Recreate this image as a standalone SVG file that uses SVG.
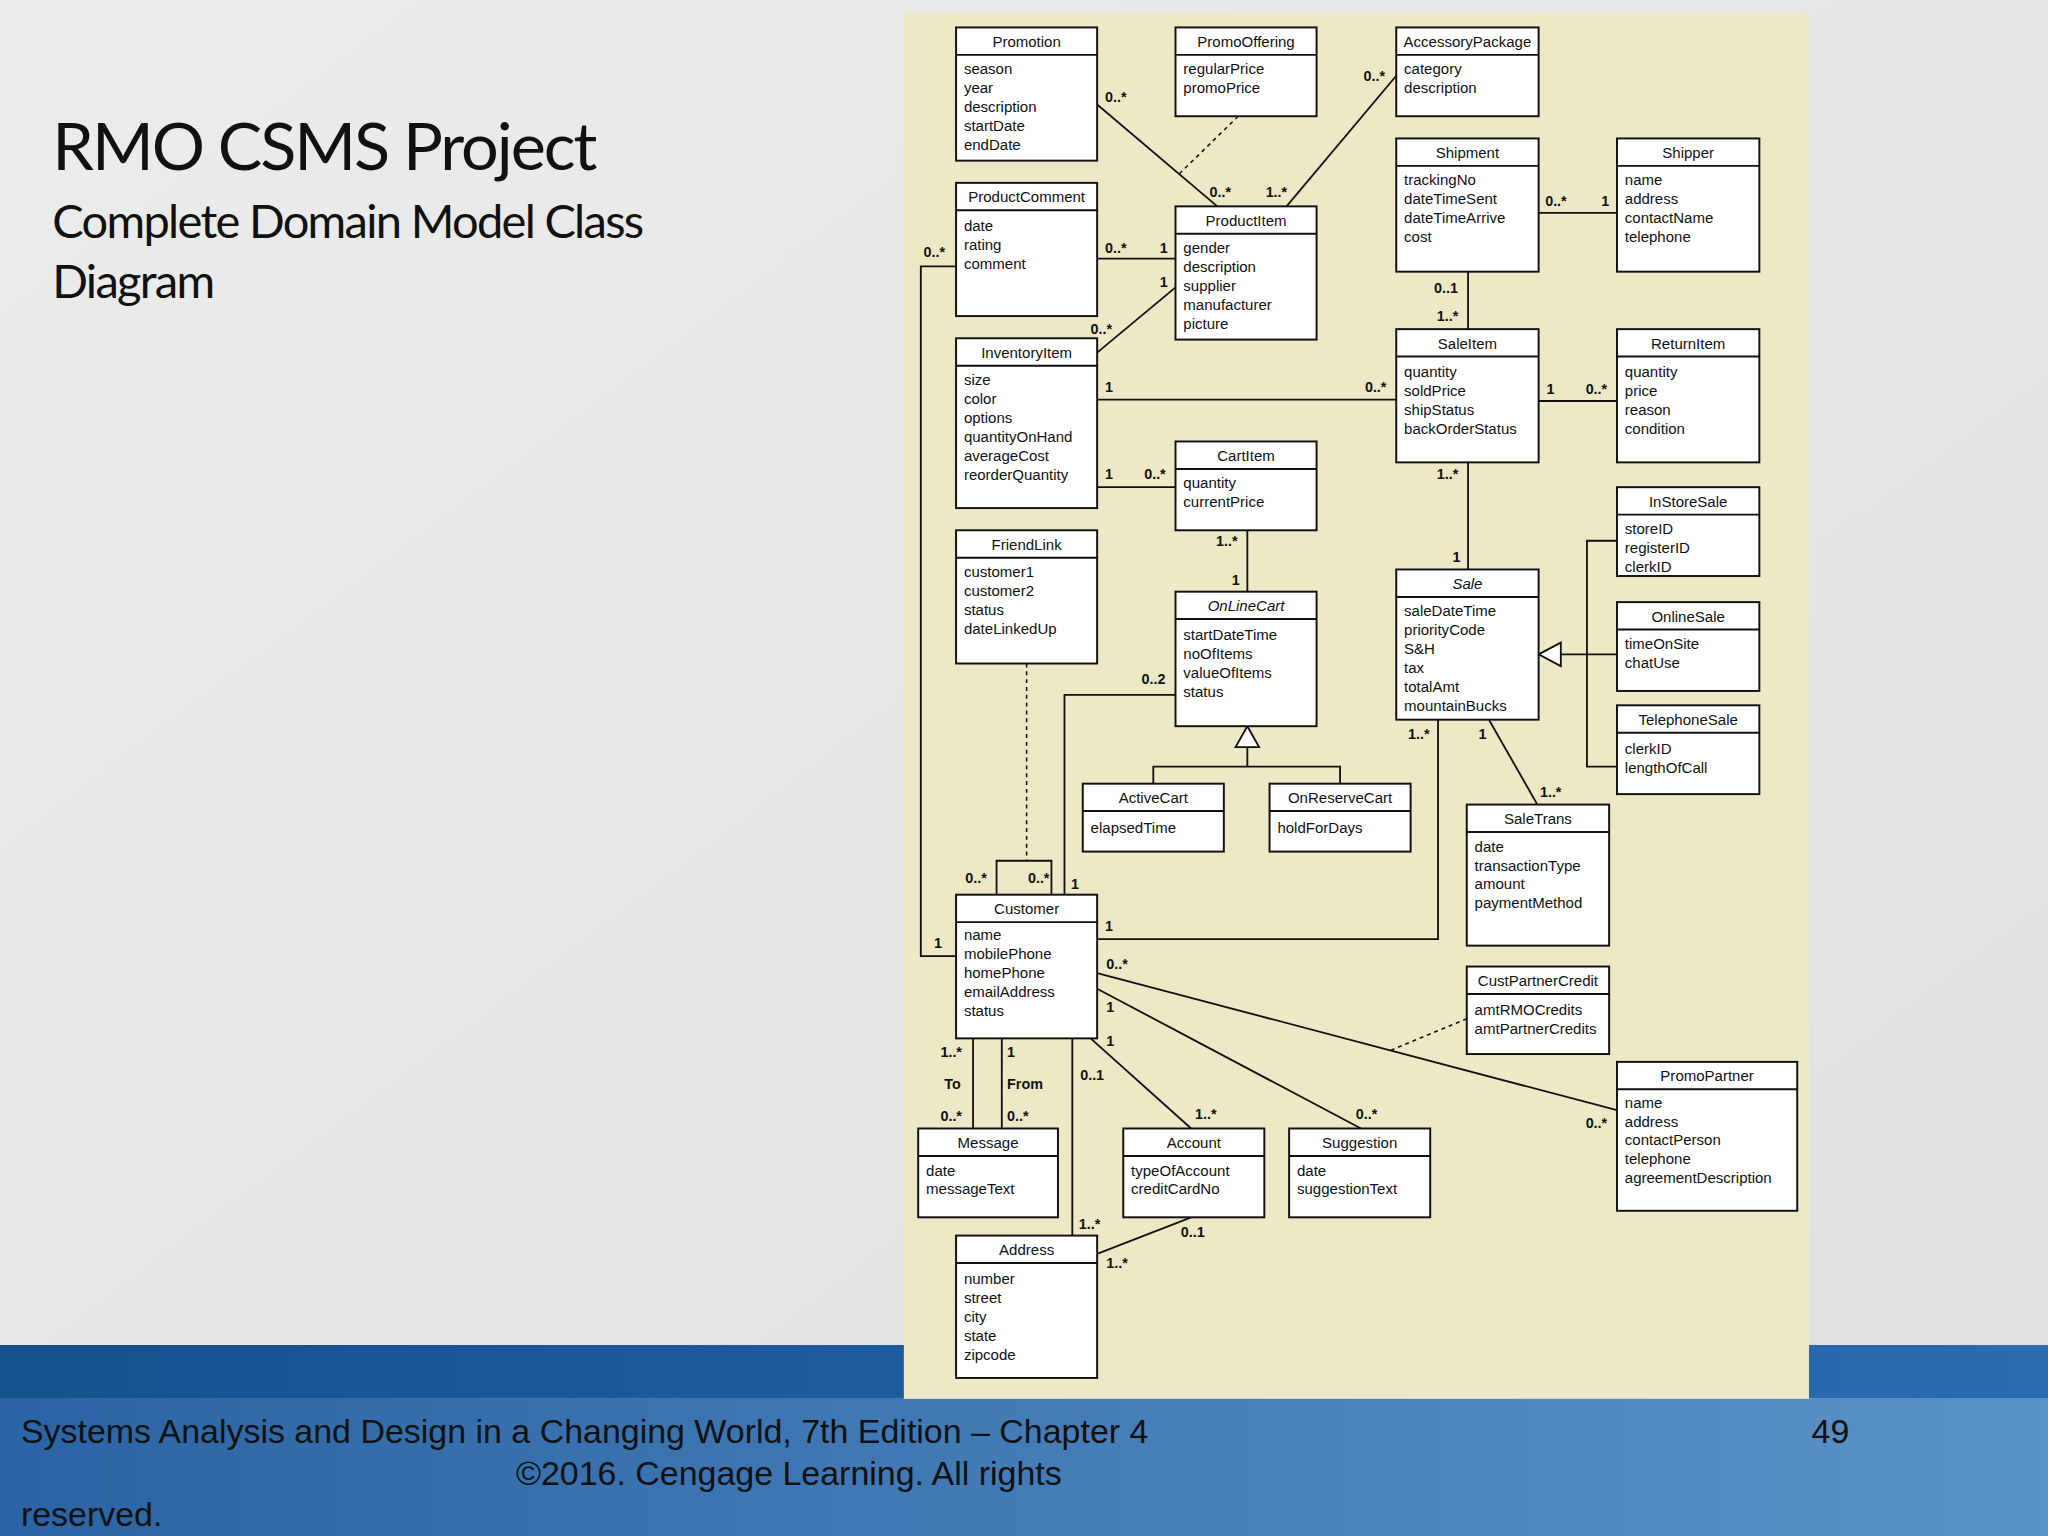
<svg xmlns="http://www.w3.org/2000/svg" width="2048" height="1536" viewBox="0 0 2048 1536">
<defs>
<linearGradient id="bg" x1="0" y1="0" x2="1" y2="1"><stop offset="0" stop-color="#ececec"/><stop offset="1" stop-color="#dedfe0"/></linearGradient>
<linearGradient id="band" x1="0" y1="0" x2="1" y2="0"><stop offset="0" stop-color="#2a64a4"/><stop offset="1" stop-color="#5b93c8"/></linearGradient>
<linearGradient id="band2" x1="0" y1="0" x2="1" y2="0"><stop offset="0" stop-color="#14508e"/><stop offset="1" stop-color="#2a6cb0"/></linearGradient>
</defs>
<style>
.box{fill:#fff;stroke:#111;stroke-width:1.5}
.sep{stroke:#111;stroke-width:1.5}
.c{fill:none;stroke:#111;stroke-width:1.4}
.d{fill:none;stroke:#111;stroke-width:1.2;stroke-dasharray:3 3}
.n{font-family:"Liberation Sans",Arial,sans-serif;font-size:11.5px;fill:#111;text-anchor:middle}
.i{font-style:italic}
.a{font-family:"Liberation Sans",Arial,sans-serif;font-size:11.5px;fill:#111}
.m{font-family:"Liberation Sans",Arial,sans-serif;font-size:11px;font-weight:bold;fill:#111}
.t1{font-family:Lato,"Open Sans",sans-serif;font-size:51px;fill:#111;letter-spacing:-1.6px}
.t2{font-family:Lato,"Open Sans",sans-serif;font-size:36px;fill:#111;letter-spacing:-1.3px}
.f{font-family:"Liberation Sans",Arial,sans-serif;font-size:26px;fill:#111}
</style>
<rect width="2048" height="1536" fill="url(#bg)"/>
<rect x="0" y="1345" width="2048" height="55" fill="url(#band2)"/>
<rect x="0" y="1398" width="2048" height="138" fill="url(#band)"/>
<g transform="scale(1.306122)">
<rect x="692" y="10" width="693" height="1061" fill="#ede8c6"/>
<text class="t1" x="40" y="130">RMO CSMS Project</text>
<text class="t2" x="40" y="182">Complete Domain Model Class</text>
<text class="t2" x="40" y="228">Diagram</text>

<g id="connectors">
<line class="c" x1="840" y1="80" x2="932" y2="158"/>
<line class="d" x1="948" y1="89" x2="903" y2="133"/>
<line class="c" x1="1069" y1="58" x2="985" y2="158"/>
<line class="c" x1="840" y1="198" x2="900" y2="198"/>
<line class="c" x1="840" y1="270" x2="900" y2="220"/>
<line class="c" x1="840" y1="306" x2="1069" y2="306"/>
<line class="c" x1="840" y1="373" x2="900" y2="373"/>
<line class="c" x1="1178" y1="163" x2="1238" y2="163"/>
<line class="c" x1="1124" y1="208" x2="1124" y2="252"/>
<line class="c" x1="1178" y1="307" x2="1238" y2="307"/>
<line class="c" x1="1124" y1="354" x2="1124" y2="436"/>
<line class="c" x1="955" y1="406" x2="955" y2="453"/>
<polygon points="955,556 946,572 964,572" fill="#fff" stroke="#111" stroke-width="1.4"/>
<polyline class="c" points="955,572 955,587"/>
<polyline class="c" points="883,600 883,587 1026,587 1026,600"/>
<polygon points="1178,501 1195,492 1195,510" fill="#fff" stroke="#111" stroke-width="1.4"/>
<line class="c" x1="1195" y1="501" x2="1238" y2="501"/>
<polyline class="c" points="1238,414 1215,414 1215,587 1238,587"/>
<line class="c" x1="1140" y1="551" x2="1177" y2="616"/>
<polyline class="c" points="1101,551 1101,719 840,719"/>
<polyline class="c" points="900,532 815,532 815,685"/>
<polyline class="c" points="732,204 705,204 705,732 732,732"/>
<line class="d" x1="786" y1="508" x2="786" y2="659"/>
<polyline class="c" points="763,685 763,659 805,659 805,685"/>
<line class="c" x1="840" y1="745" x2="1238" y2="850"/>
<line class="d" x1="1123" y1="780" x2="1065" y2="804"/>
<line class="c" x1="840" y1="757" x2="1042" y2="864"/>
<line class="c" x1="835" y1="795" x2="912" y2="864"/>
<line class="c" x1="745" y1="795" x2="745" y2="864"/>
<line class="c" x1="767" y1="795" x2="767" y2="864"/>
<line class="c" x1="821" y1="795" x2="821" y2="946"/>
<line class="c" x1="912" y1="932" x2="840" y2="960"/>
<g>
<text class="m" x="846" y="78">0..*</text><text class="m" x="926" y="151">0..*</text>
<text class="m" x="1044" y="62">0..*</text><text class="m" x="969" y="151">1..*</text>
<text class="m" x="846" y="194">0..*</text><text class="m" x="888" y="194">1</text>
<text class="m" x="888" y="220">1</text><text class="m" x="835" y="256">0..*</text>
<text class="m" x="846" y="300">1</text><text class="m" x="1045" y="300">0..*</text>
<text class="m" x="846" y="367">1</text><text class="m" x="876" y="367">0..*</text>
<text class="m" x="1183" y="158">0..*</text><text class="m" x="1226" y="158">1</text>
<text class="m" x="1098" y="224">0..1</text><text class="m" x="1100" y="246">1..*</text>
<text class="m" x="1184" y="302">1</text><text class="m" x="1214" y="302">0..*</text>
<text class="m" x="1100" y="367">1..*</text><text class="m" x="1112" y="430">1</text>
<text class="m" x="931" y="418">1..*</text><text class="m" x="943" y="448">1</text>
<text class="m" x="1132" y="566">1</text><text class="m" x="1179" y="610">1..*</text>
<text class="m" x="1078" y="566">1..*</text><text class="m" x="846" y="713">1</text>
<text class="m" x="874" y="524">0..2</text><text class="m" x="820" y="681">1</text>
<text class="m" x="707" y="197">0..*</text><text class="m" x="715" y="726">1</text>
<text class="m" x="739" y="676">0..*</text><text class="m" x="787" y="676">0..*</text>
<text class="m" x="847" y="742">0..*</text><text class="m" x="1214" y="864">0..*</text>
<text class="m" x="847" y="775">1</text><text class="m" x="1038" y="857">0..*</text>
<text class="m" x="847" y="801">1</text><text class="m" x="915" y="857">1..*</text>
<text class="m" x="720" y="809">1..*</text><text class="m" x="723" y="834">To</text><text class="m" x="720" y="858">0..*</text>
<text class="m" x="771" y="809">1</text><text class="m" x="771" y="834">From</text><text class="m" x="771" y="858">0..*</text>
<text class="m" x="827" y="827">0..1</text><text class="m" x="826" y="941">1..*</text>
<text class="m" x="904" y="947">0..1</text><text class="m" x="847" y="971">1..*</text>
</g>
</g>

<g id="Promotion"><rect class="box" x="732" y="21" width="108" height="102"/><line class="sep" x1="732" y1="42" x2="840" y2="42"/><text class="n" x="786" y="36">Promotion</text><text class="a" x="738" y="57">season</text><text class="a" x="738" y="71.5">year</text><text class="a" x="738" y="86">description</text><text class="a" x="738" y="100.5">startDate</text><text class="a" x="738" y="115">endDate</text></g>
<g id="PromoOffering"><rect class="box" x="900" y="21" width="108" height="68"/><line class="sep" x1="900" y1="42" x2="1008" y2="42"/><text class="n" x="954" y="36">PromoOffering</text><text class="a" x="906" y="57">regularPrice</text><text class="a" x="906" y="71.5">promoPrice</text></g>
<g id="AccessoryPackage"><rect class="box" x="1069" y="21" width="109" height="68"/><line class="sep" x1="1069" y1="42" x2="1178" y2="42"/><text class="n" x="1123.5" y="36">AccessoryPackage</text><text class="a" x="1075" y="57">category</text><text class="a" x="1075" y="71.5">description</text></g>
<g id="Shipment"><rect class="box" x="1069" y="106" width="109" height="102"/><line class="sep" x1="1069" y1="127" x2="1178" y2="127"/><text class="n" x="1123.5" y="121">Shipment</text><text class="a" x="1075" y="142">trackingNo</text><text class="a" x="1075" y="156.5">dateTimeSent</text><text class="a" x="1075" y="171">dateTimeArrive</text><text class="a" x="1075" y="185.5">cost</text></g>
<g id="Shipper"><rect class="box" x="1238" y="106" width="109" height="102"/><line class="sep" x1="1238" y1="127" x2="1347" y2="127"/><text class="n" x="1292.5" y="121">Shipper</text><text class="a" x="1244" y="142">name</text><text class="a" x="1244" y="156.5">address</text><text class="a" x="1244" y="171">contactName</text><text class="a" x="1244" y="185.5">telephone</text></g>
<g id="ProductComment"><rect class="box" x="732" y="140" width="108" height="102"/><line class="sep" x1="732" y1="161" x2="840" y2="161"/><text class="n" x="786" y="155">ProductComment</text><text class="a" x="738" y="177">date</text><text class="a" x="738" y="191.5">rating</text><text class="a" x="738" y="206">comment</text></g>
<g id="ProductItem"><rect class="box" x="900" y="158" width="108" height="102"/><line class="sep" x1="900" y1="179" x2="1008" y2="179"/><text class="n" x="954" y="173">ProductItem</text><text class="a" x="906" y="194">gender</text><text class="a" x="906" y="208.5">description</text><text class="a" x="906" y="223">supplier</text><text class="a" x="906" y="237.5">manufacturer</text><text class="a" x="906" y="252">picture</text></g>
<g id="InventoryItem"><rect class="box" x="732" y="259" width="108" height="130"/><line class="sep" x1="732" y1="280" x2="840" y2="280"/><text class="n" x="786" y="274">InventoryItem</text><text class="a" x="738" y="295">size</text><text class="a" x="738" y="309.5">color</text><text class="a" x="738" y="324">options</text><text class="a" x="738" y="338.5">quantityOnHand</text><text class="a" x="738" y="353">averageCost</text><text class="a" x="738" y="367.5">reorderQuantity</text></g>
<g id="SaleItem"><rect class="box" x="1069" y="252" width="109" height="102"/><line class="sep" x1="1069" y1="273" x2="1178" y2="273"/><text class="n" x="1123.5" y="267">SaleItem</text><text class="a" x="1075" y="289">quantity</text><text class="a" x="1075" y="303.5">soldPrice</text><text class="a" x="1075" y="318">shipStatus</text><text class="a" x="1075" y="332.5">backOrderStatus</text></g>
<g id="ReturnItem"><rect class="box" x="1238" y="252" width="109" height="102"/><line class="sep" x1="1238" y1="273" x2="1347" y2="273"/><text class="n" x="1292.5" y="267">ReturnItem</text><text class="a" x="1244" y="289">quantity</text><text class="a" x="1244" y="303.5">price</text><text class="a" x="1244" y="318">reason</text><text class="a" x="1244" y="332.5">condition</text></g>
<g id="CartItem"><rect class="box" x="900" y="338" width="108" height="68"/><line class="sep" x1="900" y1="359" x2="1008" y2="359"/><text class="n" x="954" y="353">CartItem</text><text class="a" x="906" y="374">quantity</text><text class="a" x="906" y="388.5">currentPrice</text></g>
<g id="InStoreSale"><rect class="box" x="1238" y="373" width="109" height="68"/><line class="sep" x1="1238" y1="394" x2="1347" y2="394"/><text class="n" x="1292.5" y="388">InStoreSale</text><text class="a" x="1244" y="409">storeID</text><text class="a" x="1244" y="423.5">registerID</text><text class="a" x="1244" y="438">clerkID</text></g>
<g id="FriendLink"><rect class="box" x="732" y="406" width="108" height="102"/><line class="sep" x1="732" y1="427" x2="840" y2="427"/><text class="n" x="786" y="421">FriendLink</text><text class="a" x="738" y="442">customer1</text><text class="a" x="738" y="456.5">customer2</text><text class="a" x="738" y="471">status</text><text class="a" x="738" y="485.5">dateLinkedUp</text></g>
<g id="OnLineCart"><rect class="box" x="900" y="453" width="108" height="103"/><line class="sep" x1="900" y1="474" x2="1008" y2="474"/><text class="n i" x="954" y="468">OnLineCart</text><text class="a" x="906" y="490">startDateTime</text><text class="a" x="906" y="504.5">noOfItems</text><text class="a" x="906" y="519">valueOfItems</text><text class="a" x="906" y="533.5">status</text></g>
<g id="Sale"><rect class="box" x="1069" y="436" width="109" height="115"/><line class="sep" x1="1069" y1="457" x2="1178" y2="457"/><text class="n i" x="1123.5" y="451">Sale</text><text class="a" x="1075" y="472">saleDateTime</text><text class="a" x="1075" y="486.5">priorityCode</text><text class="a" x="1075" y="501">S&amp;H</text><text class="a" x="1075" y="515.5">tax</text><text class="a" x="1075" y="530">totalAmt</text><text class="a" x="1075" y="544.5">mountainBucks</text></g>
<g id="OnlineSale"><rect class="box" x="1238" y="461" width="109" height="68"/><line class="sep" x1="1238" y1="482" x2="1347" y2="482"/><text class="n" x="1292.5" y="476">OnlineSale</text><text class="a" x="1244" y="497">timeOnSite</text><text class="a" x="1244" y="511.5">chatUse</text></g>
<g id="TelephoneSale"><rect class="box" x="1238" y="540" width="109" height="68"/><line class="sep" x1="1238" y1="561" x2="1347" y2="561"/><text class="n" x="1292.5" y="555">TelephoneSale</text><text class="a" x="1244" y="577">clerkID</text><text class="a" x="1244" y="591.5">lengthOfCall</text></g>
<g id="ActiveCart"><rect class="box" x="829" y="600" width="108" height="52"/><line class="sep" x1="829" y1="621" x2="937" y2="621"/><text class="n" x="883" y="615">ActiveCart</text><text class="a" x="835" y="638">elapsedTime</text></g>
<g id="OnReserveCart"><rect class="box" x="972" y="600" width="108" height="52"/><line class="sep" x1="972" y1="621" x2="1080" y2="621"/><text class="n" x="1026" y="615">OnReserveCart</text><text class="a" x="978" y="638">holdForDays</text></g>
<g id="SaleTrans"><rect class="box" x="1123" y="616" width="109" height="108"/><line class="sep" x1="1123" y1="637" x2="1232" y2="637"/><text class="n" x="1177.5" y="631">SaleTrans</text><text class="a" x="1129" y="652">date</text><text class="a" x="1129" y="666.5">transactionType</text><text class="a" x="1129" y="681">amount</text><text class="a" x="1129" y="695.5">paymentMethod</text></g>
<g id="Customer"><rect class="box" x="732" y="685" width="108" height="110"/><line class="sep" x1="732" y1="706" x2="840" y2="706"/><text class="n" x="786" y="700">Customer</text><text class="a" x="738" y="720">name</text><text class="a" x="738" y="734.5">mobilePhone</text><text class="a" x="738" y="749">homePhone</text><text class="a" x="738" y="763.5">emailAddress</text><text class="a" x="738" y="778">status</text></g>
<g id="CustPartnerCredit"><rect class="box" x="1123" y="740" width="109" height="67"/><line class="sep" x1="1123" y1="761" x2="1232" y2="761"/><text class="n" x="1177.5" y="755">CustPartnerCredit</text><text class="a" x="1129" y="777">amtRMOCredits</text><text class="a" x="1129" y="791.5">amtPartnerCredits</text></g>
<g id="PromoPartner"><rect class="box" x="1238" y="813" width="138" height="114"/><line class="sep" x1="1238" y1="834" x2="1376" y2="834"/><text class="n" x="1307" y="828">PromoPartner</text><text class="a" x="1244" y="848">name</text><text class="a" x="1244" y="862.5">address</text><text class="a" x="1244" y="877">contactPerson</text><text class="a" x="1244" y="891.5">telephone</text><text class="a" x="1244" y="906">agreementDescription</text></g>
<g id="Message"><rect class="box" x="703" y="864" width="107" height="68"/><line class="sep" x1="703" y1="885" x2="810" y2="885"/><text class="n" x="756.5" y="879">Message</text><text class="a" x="709" y="900">date</text><text class="a" x="709" y="914.5">messageText</text></g>
<g id="Account"><rect class="box" x="860" y="864" width="108" height="68"/><line class="sep" x1="860" y1="885" x2="968" y2="885"/><text class="n" x="914" y="879">Account</text><text class="a" x="866" y="900">typeOfAccount</text><text class="a" x="866" y="914.5">creditCardNo</text></g>
<g id="Suggestion"><rect class="box" x="987" y="864" width="108" height="68"/><line class="sep" x1="987" y1="885" x2="1095" y2="885"/><text class="n" x="1041" y="879">Suggestion</text><text class="a" x="993" y="900">date</text><text class="a" x="993" y="914.5">suggestionText</text></g>
<g id="Address"><rect class="box" x="732" y="946" width="108" height="109"/><line class="sep" x1="732" y1="967" x2="840" y2="967"/><text class="n" x="786" y="961">Address</text><text class="a" x="738" y="983">number</text><text class="a" x="738" y="997.5">street</text><text class="a" x="738" y="1012">city</text><text class="a" x="738" y="1026.5">state</text><text class="a" x="738" y="1041">zipcode</text></g>

<text class="f" x="16" y="1105">Systems Analysis and Design in a Changing World, 7th Edition – Chapter 4</text>
<text class="f" x="1387" y="1105">49</text>
<text class="f" x="395" y="1137">©2016. Cengage Learning. All rights</text>
<text class="f" x="16" y="1168">reserved.</text>
</g>
</svg>
